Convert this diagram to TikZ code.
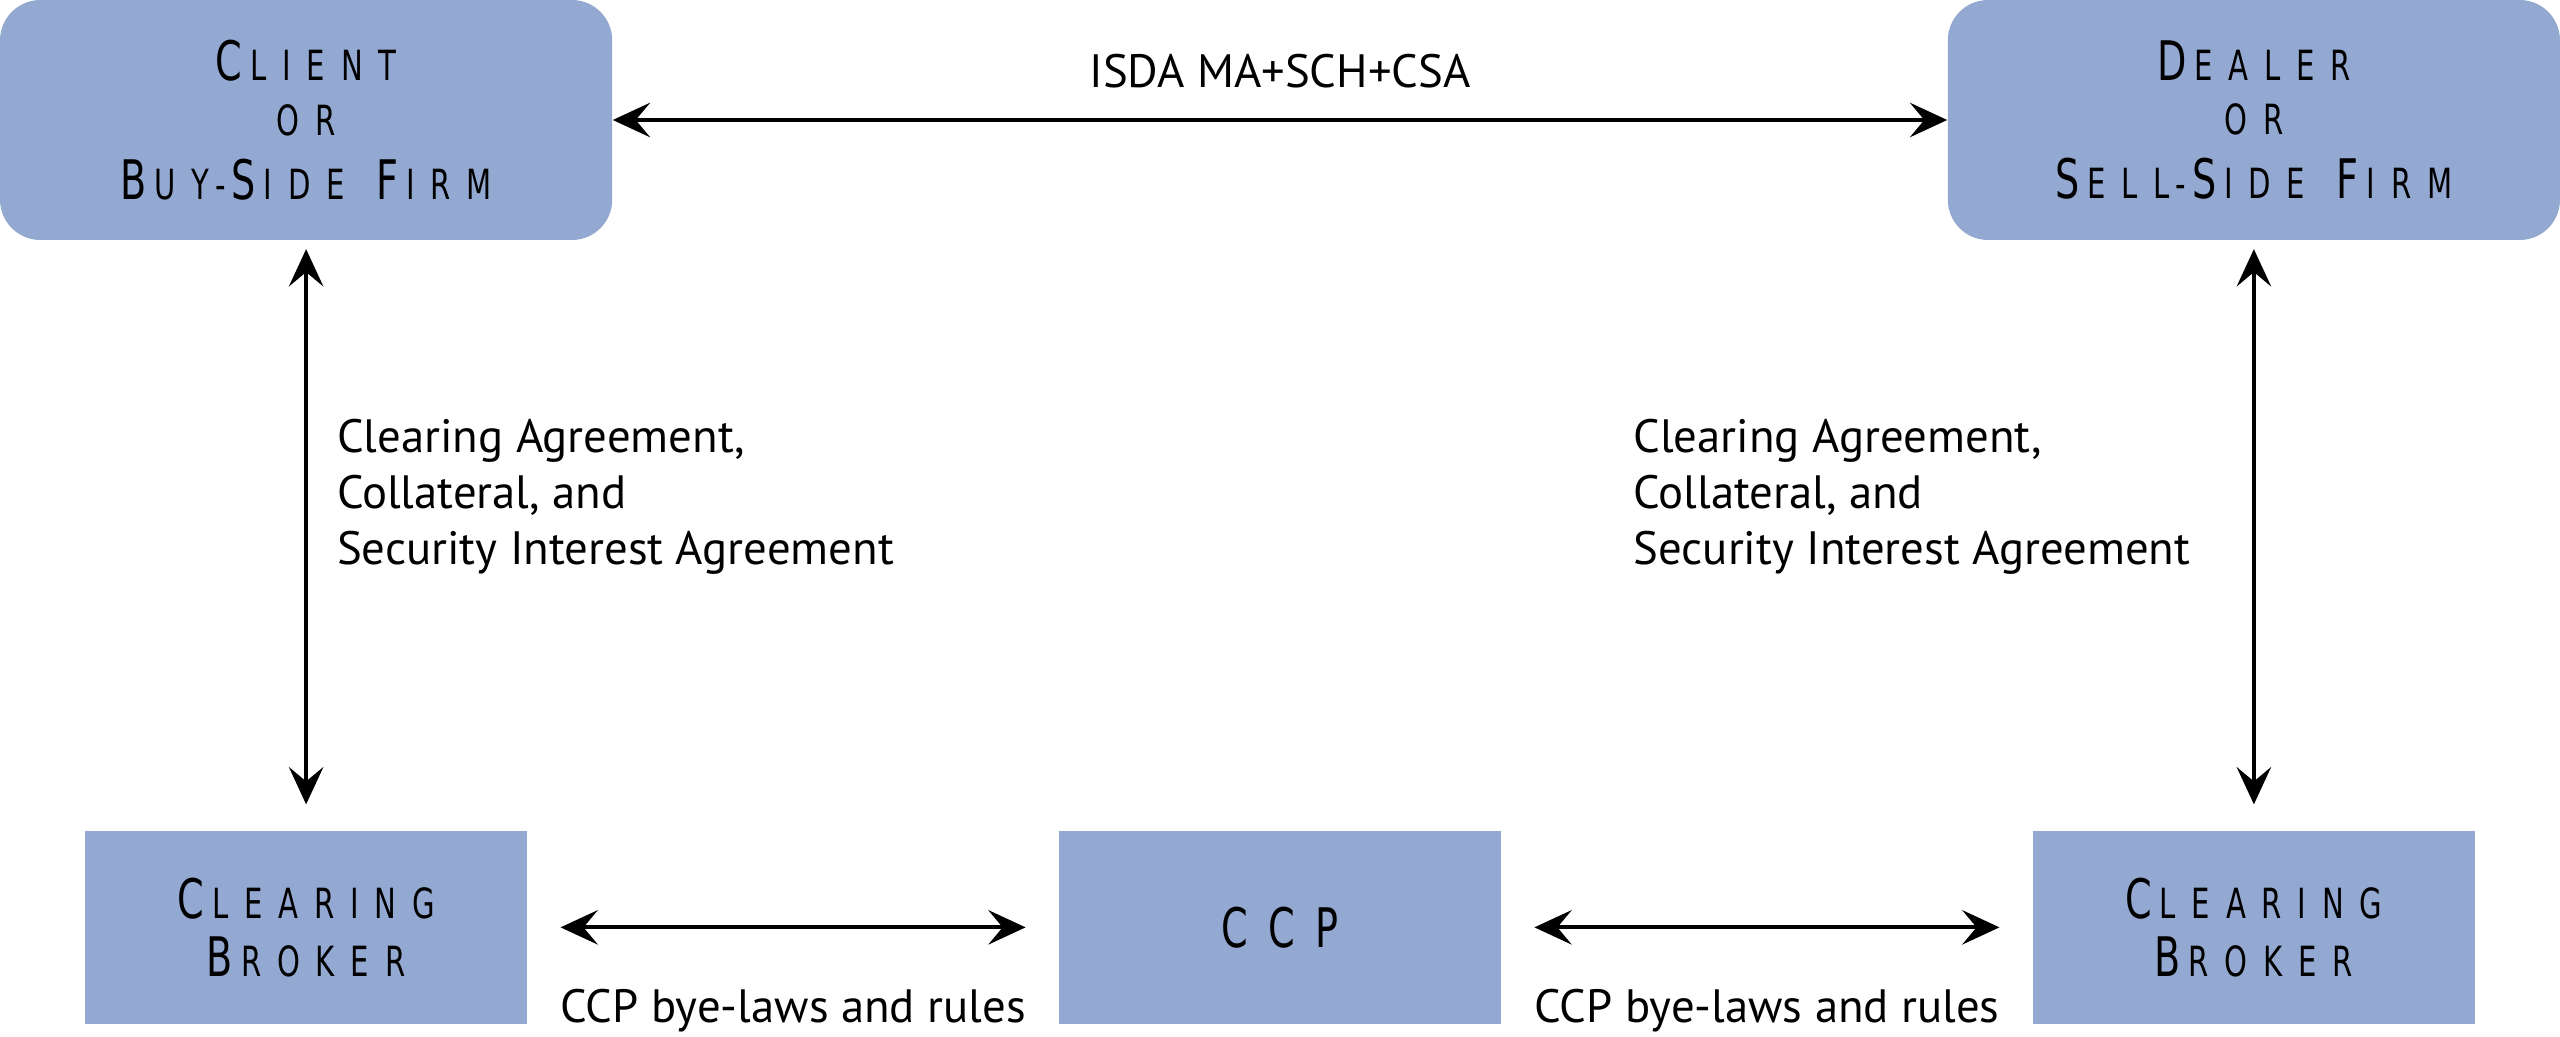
\documentclass[tikz,border=0pt]{standalone}
\usepackage{fontspec}
\setmainfont{PT Sans}
\newfontfamily\titlefont[FakeStretch=0.7,LetterSpace=38]{DejaVu Sans}
\usetikzlibrary{arrows.meta}
\definecolor{boxblue}{RGB}{148,169,210}
\newcommand{\tcap}[2]{{\fontsize{19}{22}\selectfont #1}\kern2.8pt{\fontsize{14.5}{22}\selectfont #2}}
\newcommand{\tsm}[1]{{\fontsize{14.5}{22}\selectfont #1}}
\newcommand{\tgap}{\hspace{11pt}}
\tikzset{
  firm/.style={fill=boxblue, rounded corners=14pt, minimum width=7.5cm, minimum height=2.94cm, align=center, font=\titlefont},
  party/.style={fill=boxblue, minimum width=5.42cm, minimum height=2.36cm, align=center, font=\titlefont},
  link/.style={line width=1.3pt, {Stealth[length=13pt,width=12pt,inset=5pt]}-{Stealth[length=13pt,width=12pt,inset=5pt]}},
  note/.style={font=\fontsize{16.3}{19.5}\selectfont, align=left}
}
\begin{document}
\begin{tikzpicture}[x=0.02cm, y=-0.02cm]
	\useasboundingbox (0,0) rectangle (1568,635);
	\node [firm] (client) at (187.5,73.5) {\tcap{C}{LIENT}\\[7pt]\tsm{OR}\\[7pt]\tcap{B}{UY}\kern2pt\tsm{-}\kern2pt\tcap{S}{IDE}\tgap\tcap{F}{IRM}};
	\node [firm] (dealer) at (1380.5,73.5) {\tcap{D}{EALER}\\[7pt]\tsm{OR}\\[7pt]\tcap{S}{ELL}\kern2pt\tsm{-}\kern2pt\tcap{S}{IDE}\tgap\tcap{F}{IRM}};
	\node [party] (brokerL) at (187.5,568) {\tcap{C}{LEARING}\\[5pt]\tcap{B}{ROKER}};
	\node [party] (ccp) at (784,568) {{\fontsize{19}{22}\selectfont CCP}};
	\node [party] (brokerR) at (1380.5,568) {\tcap{C}{LEARING}\\[5pt]\tcap{B}{ROKER}};
	\draw [link] (client.east) -- (dealer.west) node [pos=0.5, above=7pt, font=\fontsize{16.3}{20}\selectfont] {ISDA MA+SCH+CSA};
	\draw [link, shorten <=3pt, shorten >=0.32cm] (client.south) -- (brokerL.north) node [pos=0.435, right=0.24cm, note] {Clearing Agreement,\\Collateral, and\\Security Interest Agreement};
	\draw [link, shorten <=3pt, shorten >=0.32cm] (dealer.south) -- (brokerR.north) node [pos=0.435, anchor=west, xshift=-7.74cm, note] {Clearing Agreement,\\Collateral, and\\Security Interest Agreement};
	\draw [link, shorten <=0.4cm, shorten >=0.4cm] (brokerL.east) -- (ccp.west) node [pos=0.5, below=0.62cm, font=\fontsize{16.3}{20}\selectfont] {CCP bye-laws and rules};
	\draw [link, shorten <=0.4cm, shorten >=0.4cm] (ccp.east) -- (brokerR.west) node [pos=0.5, below=0.62cm, font=\fontsize{16.3}{20}\selectfont] {CCP bye-laws and rules};
\end{tikzpicture}
\end{document}
